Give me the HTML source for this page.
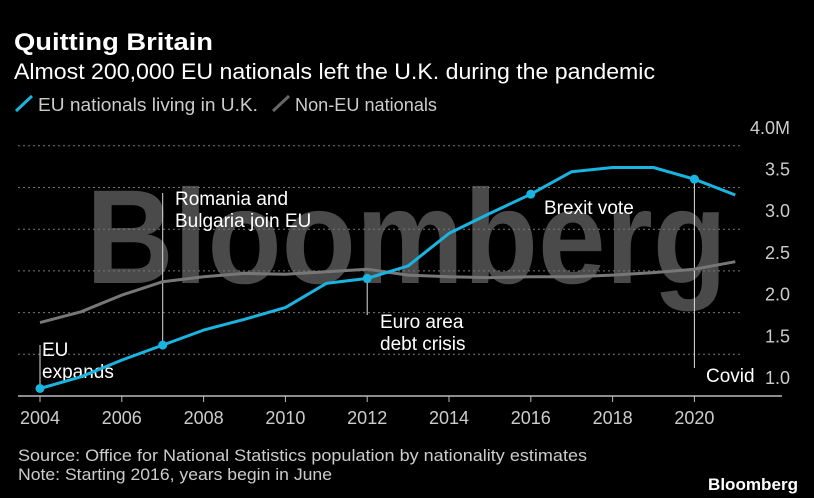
<!DOCTYPE html>
<html><head><meta charset="utf-8"><style>
body{margin:0;background:#000;width:814px;height:498px;overflow:hidden;font-family:"Liberation Sans",sans-serif;color:#fff}
</style></head><body>
<svg width="814" height="498" style="position:absolute;left:0;top:0" font-family="Liberation Sans, sans-serif">
<text x="14" y="50" font-size="24" font-weight="bold" fill="#fff" textLength="199" lengthAdjust="spacingAndGlyphs">Quitting Britain</text>
<text x="14" y="79" font-size="22" fill="#fff" textLength="641" lengthAdjust="spacingAndGlyphs">Almost 200,000 EU nationals left the U.K. during the pandemic</text>
<g>
<line x1="16" y1="111" x2="32" y2="96" stroke="#1ab4e0" stroke-width="3"/>
<text x="38" y="111" font-size="18" fill="#ccc" textLength="220" lengthAdjust="spacingAndGlyphs">EU nationals living in U.K.</text>
<line x1="273" y1="111" x2="289" y2="96" stroke="#666" stroke-width="3"/>
<text x="295" y="111" font-size="18" fill="#ccc" textLength="142" lengthAdjust="spacingAndGlyphs">Non-EU nationals</text>
</g>
<text x="86" y="283" font-size="134" font-weight="bold" fill="#4a4a4a" textLength="641" lengthAdjust="spacingAndGlyphs">Bloomberg</text>
<g id="grid"></g><g id="annot"></g><g id="series"></g>
<text x="18" y="461" font-size="17" fill="#ccc" textLength="569" lengthAdjust="spacingAndGlyphs">Source: Office for National Statistics population by nationality estimates</text>
<text x="18" y="480" font-size="17" fill="#ccc" textLength="314" lengthAdjust="spacingAndGlyphs">Note: Starting 2016, years begin in June</text>
<text x="798" y="490" font-size="17" font-weight="bold" fill="#fff" text-anchor="end" textLength="90" lengthAdjust="spacingAndGlyphs">Bloomberg</text>
</svg>
<script>
const years=[2004,2005,2006,2007,2008,2009,2010,2011,2012,2013,2014,2015,2016,2017,2018,2019,2020,2021];
const euValues=[1.09,1.23,1.43,1.61,1.79,1.92,2.06,2.35,2.41,2.56,2.95,3.19,3.42,3.69,3.74,3.74,3.60,3.41];
const nonEuValues=[1.88,2.01,2.21,2.37,2.43,2.47,2.46,2.49,2.52,2.45,2.43,2.42,2.43,2.43,2.45,2.48,2.52,2.61];
const yTicks=[1.0,1.5,2.0,2.5,3.0,3.5,4.0];
const yTickLabels=["1.0","1.5","2.0","2.5","3.0","3.5","4.0M"];
const xTicks=[2004,2006,2008,2010,2012,2014,2016,2018,2020];
const markerYears=[2004,2007,2012,2016,2020];
const NS="http://www.w3.org/2000/svg";
const X=y=>40+(y-2004)*40.9;
const Y=v=>396-(v-1.0)*83.4;
function mk(parent,tag,attrs){const e=document.createElementNS(NS,tag);for(const k in attrs)e.setAttribute(k,attrs[k]);document.getElementById(parent).appendChild(e);return e;}
yTicks.forEach((t,i)=>{
 if(t>1.0){const l=mk('grid','line',{x1:18,x2:742,y1:Y(t),y2:Y(t),stroke:'#777','stroke-dasharray':'2,3'});
 
 }
 const tx=mk('grid','text',{x:790,y:Y(t)-12,'font-size':18,fill:'#ccc','text-anchor':'end'});tx.textContent=yTickLabels[i];
 
 
});
const ax=mk('grid','line',{x1:18,x2:782,y1:396,y2:396,stroke:'#bbb','stroke-width':1.5});


xTicks.forEach(t=>{
 const tk=mk('grid','line',{x1:X(t),x2:X(t),y1:396,y2:402,stroke:'#bbb'});
 
 
 const tx=mk('grid','text',{x:X(t),y:424,'font-size':18,fill:'#ccc','text-anchor':'middle'});tx.textContent=t;
 
 
});
function val(arr,yr){return arr[years.indexOf(yr)];}
const notes=[
 {yr:2004,y1:345,y2:Y(val(euValues,2004)),lines:["EU","expands"],tx:42,ty:356},
 {yr:2007,y1:193,y2:Y(val(euValues,2007)),lines:["Romania and","Bulgaria join EU"],tx:175,ty:205},
 {yr:2012,y1:Y(val(euValues,2012)),y2:315,lines:["Euro area","debt crisis"],tx:380,ty:328},
 {yr:2016,y1:null,lines:["Brexit vote"],tx:544,ty:214},
 {yr:2020,y1:Y(val(euValues,2020)),y2:368,lines:["Covid"],tx:706,ty:382}
];
notes.forEach(n=>{
 if(n.y1!==null){const l=mk('annot','line',{x1:X(n.yr),x2:X(n.yr),y1:n.y1,y2:n.y2,stroke:'#ddd','stroke-width':1});
 
 }
 n.lines.forEach((s,i)=>{const t=mk('annot','text',{x:n.tx,y:n.ty+i*22,'font-size':19,fill:'#fff'});t.textContent=s;
 
 });
});
function path(arr){return arr.map((v,i)=>(i?'L':'M')+X(years[i]).toFixed(1)+','+Y(v).toFixed(1)).join('');}
const g=mk('series','path',{d:path(nonEuValues),fill:'none',stroke:'#777','stroke-width':3,'stroke-linejoin':'round'});


const b=mk('series','path',{d:path(euValues),fill:'none',stroke:'#1ab4e0','stroke-width':3,'stroke-linejoin':'round'});


markerYears.forEach(yr=>{
 const c=mk('series','circle',{cx:X(yr),cy:Y(val(euValues,yr)),r:4.5,fill:'#1ab4e0'});
 
 
});
</script>
</body></html>
